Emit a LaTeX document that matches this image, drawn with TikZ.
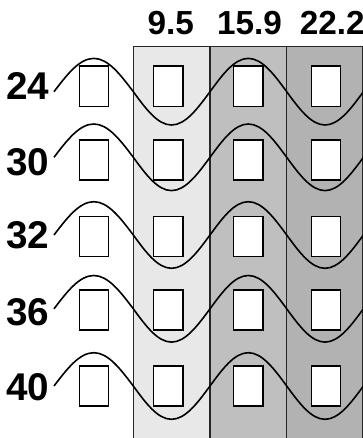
\documentclass[tikz,border=0pt]{standalone}
\usepackage{fontspec}
\setmainfont{Liberation Sans}
\usepackage{xcolor}
\definecolor{colLight}{gray}{0.91}
\definecolor{colMid}{gray}{0.75}
\definecolor{colDark}{gray}{0.70}

\begin{document}
\begin{tikzpicture}[
        x=0.75pt, y=-0.75pt,
        % common styles for cells, labels and waves
        cell/.style={draw, rectangle, line width=1pt, fill=white, minimum width=21.8pt, minimum height=30.2pt, inner sep=0pt},
        rowlabel/.style={inner sep=0pt, font=\fontsize{29}{29}\selectfont\bfseries},
        collabel/.style={inner sep=0pt, font=\fontsize{25}{25}\selectfont\bfseries},
        wave/.style={line width=1.2pt},
        strip/.style={draw=black!85, line width=0.8pt}
    ]
    \useasboundingbox (0,0) rectangle (363,438);

    % shaded columns
    \fill[colLight] (133.3,46.7) rectangle (210,440);
    \fill[colMid] (210,46.7) rectangle (286.7,440);
    \fill[colDark] (286.7,46.7) rectangle (362.5,440);
    \draw[strip] (133.3,440) -- (133.3,46.7) -- (362.5,46.7) -- (362.5,440);
    \draw[strip] (210,46.7) -- (210,440);
    \draw[strip] (286.7,46.7) -- (286.7,440);

    % column labels
    \node[collabel] (head1) at (170.8,23) {9.5};
    \node[collabel] (head2) at (249.5,23) {15.9};
    \node[collabel] (head3) at (332.2,23) {22.2};

    % rows: label / label y / cell y / wave y
    \foreach \lab/\ly/\by/\wy [count=\r] in {24/86/86.3/91.7, 30/162/160/157.3, 32/235.5/236.5/235, 36/312.7/310/308.8, 40/387/386/386} {
        \node[rowlabel] (row\r) at (28,\ly) {\lab};
        \foreach \bx [count=\c] in {93.8,168.3,248.3,325.8}
            \node[cell] (cell\r-\c) at (\bx,\by) {};
        \draw[wave] (54,\wy) sin (93.8,\wy-33.3) cos (133.3,\wy) sin (171.5,\wy+33.3) cos (210,\wy)
            sin (248.3,\wy-33.3) cos (286.7,\wy) sin (325,\wy+33.3) cos (363.4,\wy);
    }

\end{tikzpicture}
\end{document}
